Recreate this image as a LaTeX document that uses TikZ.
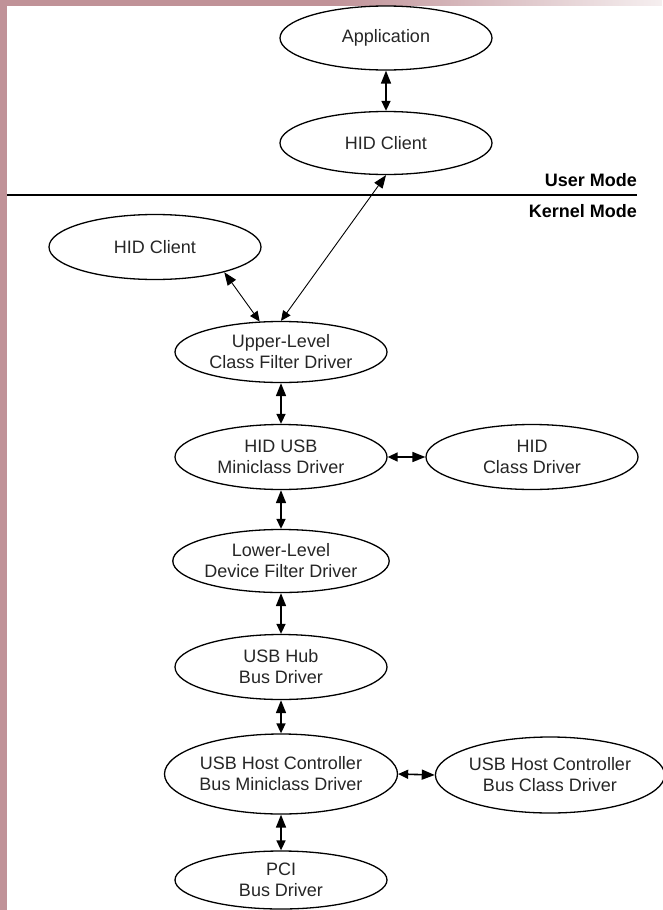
\documentclass[tikz,border=0pt]{standalone}
\usepackage{fontspec}
\setmainfont{Liberation Sans}
\usetikzlibrary{shapes.geometric,arrows.meta}
\definecolor{rosefond}{RGB}{192,146,152}

\begin{document}
\begin{tikzpicture}[x=1pt, y=-1pt,
    pilote/.style={ellipse, draw, line width=1.3pt, minimum width=212pt,
      minimum height=63pt, inner sep=0pt, align=center, text=black!85,
      font=\fontsize{18}{21}\selectfont},
    mode/.style={anchor=east, inner sep=0pt, font=\bfseries\fontsize{18}{22}\selectfont},
    fleche/.style={{Triangle[length=13pt,width=10pt]}-{Triangle[length=10pt,width=9pt]}, line width=1.6pt},
    finefleche/.style={{Triangle[length=13pt,width=10pt]}-{Triangle[length=10pt,width=9pt]}, line width=0.9pt}]

    % Fond et marges
    \useasboundingbox (0,0) rectangle (662,910);
    \fill[rosefond] (0,0) rectangle (662,910);
    \shade[left color=rosefond, right color=rosefond!15] (330,0) rectangle (662,6);
    \fill[white] (7,6) rectangle (662,910);

    % Limite mode utilisateur / mode noyau
    \draw[line width=2.5pt] (7,195) -- (637,195);
    \node[mode] (user) at (637,180) {User Mode};
    \node[mode] (kernel) at (637,211) {Kernel Mode};

    % Mode utilisateur
    \node[pilote, minimum height=64pt] (app) at (386,38) {Application};
    \node[pilote] (hidclient) at (386,143) {HID Client};

    % Mode noyau
    \node[pilote, minimum height=65pt] (hidclientk) at (155,247) {HID Client};
    \node[pilote, minimum height=61pt] (upperfilter) at (281,352) {Upper-Level\\Class Filter Driver};
    \node[pilote, minimum height=65pt] (hidusb) at (281,457) {HID USB\\Miniclass Driver};
    \node[pilote, minimum height=65pt] (hidclass) at (532,457) {HID\\Class Driver};
    \node[pilote] (lowerfilter) at (281,561) {Lower-Level\\Device Filter Driver};
    \node[pilote, minimum height=65pt] (usbhub) at (281,667) {USB Hub\\Bus Driver};
    \node[pilote, minimum width=233pt, minimum height=80pt] (hcmini) at (281,774) {USB Host Controller\\Bus Miniclass Driver};
    \node[pilote, minimum width=226pt, minimum height=76pt] (hcclass) at (550,775) {USB Host Controller\\Bus Class Driver};
    \node[pilote, minimum height=58pt] (pci) at (281,880) {PCI\\Bus Driver};

    % Flèches
    \draw[fleche] (app) -- (hidclient);
    \draw[finefleche] (hidclient.south) -- (upperfilter.north);
    \draw[finefleche] (hidclientk.-20) -- (upperfilter.125);
    \draw[fleche] (upperfilter) -- (hidusb);
    \draw[fleche] (hidclass.west) -- (hidusb.east);
    \draw[fleche] (hidusb) -- (lowerfilter);
    \draw[fleche] (lowerfilter) -- (usbhub);
    \draw[fleche] (usbhub) -- (hcmini);
    \draw[fleche] (hcclass.west) -- (hcmini.east);
    \draw[fleche] (hcmini) -- (pci);

\end{tikzpicture}
\end{document}
